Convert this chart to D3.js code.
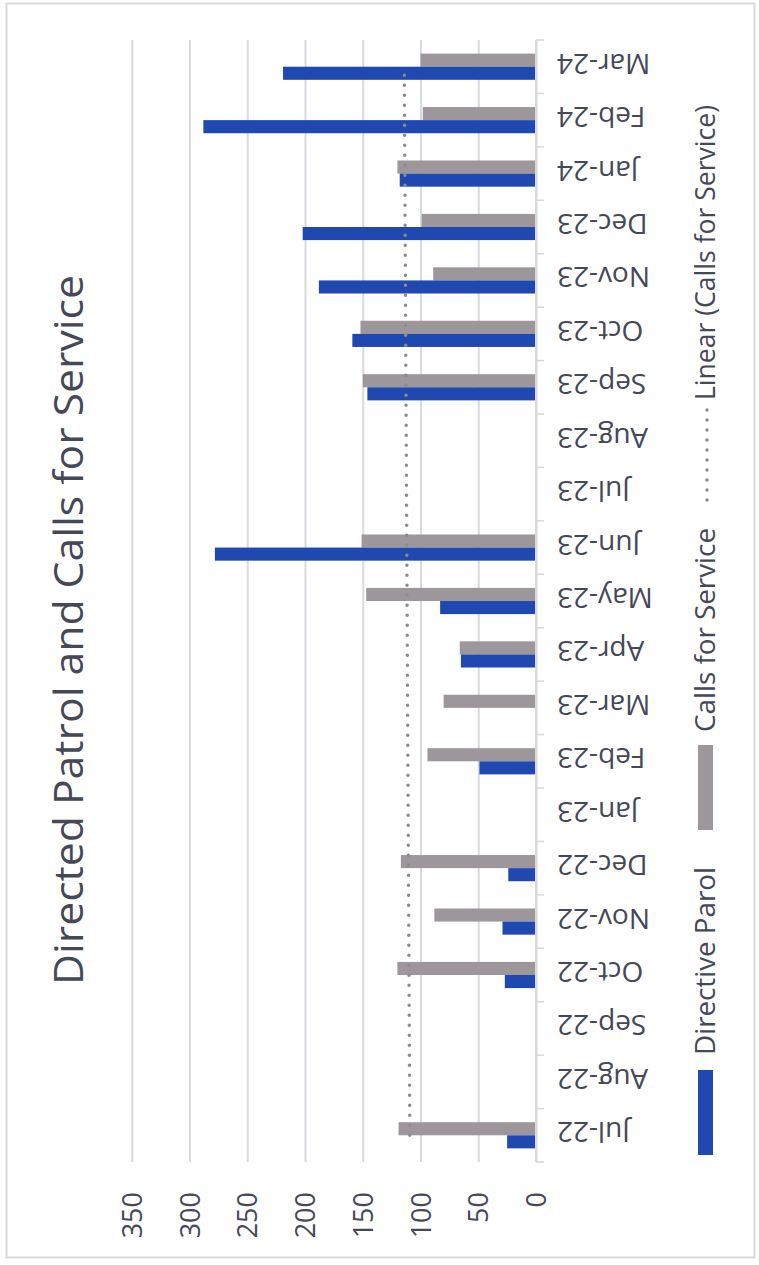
<!DOCTYPE html>
<meta charset="utf-8">
<style>
  body { margin: 0; background: #fff; }
  svg { display: block; }
  text { font-family: "Open Sans", "Noto Sans", sans-serif; fill: #454856; }
</style>

<!-- Load d3.js -->
<script src="https://d3js.org/d3.v7.min.js"></script>

<!-- Create a div where the graph will take place -->
<div id="my_dataviz"></div>

<script>

// months, oldest first
var months = ["Jul-22","Aug-22","Sep-22","Oct-22","Nov-22","Dec-22","Jan-23","Feb-23","Mar-23","Apr-23","May-23","Jun-23","Jul-23","Aug-23","Sep-23","Oct-23","Nov-23","Dec-23","Jan-24","Feb-24","Mar-24"]

// null = no entry for that month
var directivePatrol = [25,null,null,27,29,24,null,49,null,65,83,278,null,null,146,159,188,202,118,288,219]
var callsForService = [119,null,null,120,88,117,null,94,80,66,147,151,null,null,150,152,89,99,120,98,100]

var valueTicks = [0,50,100,150,200,250,300,350]

var W = 759, H = 1265
var blue = "#1f48b0", grey = "#9d969b"

var svg = d3.select("#my_dataviz")
  .append("svg")
    .attr("width", W)
    .attr("height", H)

// chart border
svg.append("rect")
  .attr("x", 6.5).attr("y", 3.5)
  .attr("width", 748).attr("height", 1254)
  .attr("fill", "#fff")
  .attr("stroke", "#d9d9d9")
  .attr("stroke-width", 2)

// the chart is laid on its side: values run right to left, months bottom to top
var plotTop = 40, plotBottom = 1162

var x = d3.scaleLinear()
  .domain([0, 350])
  .range([536, 131.75])

var y = d3.scaleBand()
  .domain(months)
  .range([plotBottom, plotTop])
  .paddingInner(0.51)
  .paddingOuter(0.255)

// grey sits above blue inside each month
var sub = d3.scaleBand()
  .domain(["calls", "patrol"])
  .range([0, y.bandwidth()])

// value axis with gridlines
var xAxis = svg.append("g")
  .attr("transform", "translate(0," + plotBottom + ")")
  .call(d3.axisBottom(x).tickValues(valueTicks).tickSize(-(plotBottom - plotTop)))
xAxis.select(".domain").remove()
xAxis.selectAll("line")
  .attr("stroke", "#d9dae0")
  .attr("stroke-width", 2)
xAxis.selectAll("text")
  .attr("transform", "rotate(-90)")
  .attr("x", -30)
  .attr("y", 9.5)
  .attr("dy", null)
  .attr("text-anchor", "end")
  .attr("font-family", null)
  .attr("font-size", 27)
  .attr("fill", "#454856")

// bars
var rows = months.map(function(m, i) {
  return {month: m, calls: callsForService[i], patrol: directivePatrol[i]}
})

svg.append("g")
  .selectAll("rect")
  .data(rows.filter(function(d) { return d.calls != null }))
  .enter()
  .append("rect")
    .attr("x", function(d) { return x(d.calls) })
    .attr("y", function(d) { return y(d.month) + sub("calls") })
    .attr("width", function(d) { return x(0) - x(d.calls) })
    .attr("height", sub.bandwidth())
    .attr("fill", grey)

svg.append("g")
  .selectAll("rect")
  .data(rows.filter(function(d) { return d.patrol != null }))
  .enter()
  .append("rect")
    .attr("x", function(d) { return x(d.patrol) })
    .attr("y", function(d) { return y(d.month) + sub("patrol") })
    .attr("width", function(d) { return x(0) - x(d.patrol) })
    .attr("height", sub.bandwidth())
    .attr("fill", blue)

// category axis line
svg.append("line")
  .attr("x1", x(0)).attr("x2", x(0))
  .attr("y1", plotTop).attr("y2", plotBottom)
  .attr("stroke", "#d9d9d9")
  .attr("stroke-width", 2)

// tick marks between months
var bounds = d3.range(months.length + 1).map(function(i) { return plotBottom - i * y.step() })
svg.append("g")
  .selectAll("line")
  .data(bounds)
  .enter()
  .append("line")
    .attr("x1", x(0)).attr("x2", x(0) + 8)
    .attr("y1", function(d) { return d }).attr("y2", function(d) { return d })
    .attr("stroke", "#d9d9d9")
    .attr("stroke-width", 1.5)

// month labels
var yAxis = svg.append("g")
  .attr("transform", "translate(" + x(0) + ",0)")
  .call(d3.axisRight(y).tickSize(0))
yAxis.select(".domain").remove()
yAxis.selectAll("text")
  .attr("transform", "rotate(180)")
  .attr("x", -21)
  .attr("y", 13)
  .attr("dy", null)
  .attr("text-anchor", "end")
  .attr("font-family", null)
  .attr("font-size", 28)
  .attr("fill", "#454856")

// linear trendline for calls for service (least squares over month number)
var pts = []
callsForService.forEach(function(v, i) { if (v != null) pts.push([i + 1, v]) })
var mx = d3.mean(pts, function(p) { return p[0] })
var my = d3.mean(pts, function(p) { return p[1] })
var slope = d3.sum(pts, function(p) { return (p[0] - mx) * (p[1] - my) }) /
            d3.sum(pts, function(p) { return (p[0] - mx) * (p[0] - mx) })
var trend = [1, months.length].map(function(n) {
  return {month: months[n - 1], value: my + slope * (n - mx)}
})

svg.append("path")
  .datum(trend)
  .attr("d", d3.line()
    .x(function(d) { return x(d.value) })
    .y(function(d) { return y(d.month) + y.bandwidth() / 2 })
  )
  .attr("fill", "none")
  .attr("stroke", "#8c8c8c")
  .attr("stroke-width", 3.5)
  .attr("stroke-linecap", "round")
  .attr("stroke-dasharray", "0,10")

// title
svg.append("text")
  .attr("transform", "translate(83,630) rotate(-90)")
  .attr("text-anchor", "middle")
  .attr("font-size", 40)
  .attr("textLength", 710)
  .attr("lengthAdjust", "spacingAndGlyphs")
  .text("Directed Patrol and Calls for Service")

// legend
svg.append("rect").attr("x", 698).attr("y", 1070).attr("width", 15).attr("height", 85).attr("fill", blue)
svg.append("rect").attr("x", 698).attr("y", 745).attr("width", 15).attr("height", 85).attr("fill", grey)
svg.append("line")
  .attr("x1", 707).attr("x2", 707).attr("y1", 410).attr("y2", 505)
  .attr("stroke", "#8c8c8c").attr("stroke-width", 3.5)
  .attr("stroke-linecap", "round").attr("stroke-dasharray", "0,10")

var legendItems = [
  {label: "Directive Parol", start: 1055, len: 188},
  {label: "Calls for Service", start: 732, len: 204},
  {label: "Linear (Calls for Service)", start: 400, len: 295}
]
svg.append("g")
  .selectAll("text")
  .data(legendItems)
  .enter()
  .append("text")
    .attr("transform", function(d) { return "translate(715," + d.start + ") rotate(-90)" })
    .attr("font-size", 28)
    .attr("textLength", function(d) { return d.len })
    .attr("lengthAdjust", "spacingAndGlyphs")
    .text(function(d) { return d.label })

</script>
